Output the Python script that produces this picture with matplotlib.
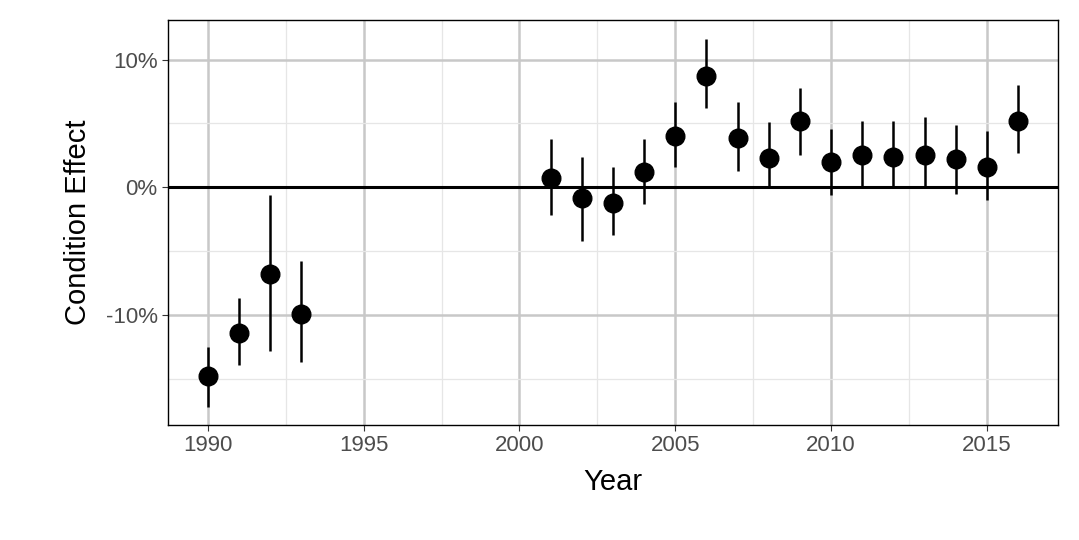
import matplotlib
matplotlib.use("Agg")
import matplotlib.pyplot as plt
from matplotlib.ticker import FuncFormatter, MultipleLocator

years = [1990, 1991, 1992, 1993, 2001, 2002, 2003, 2004, 2005, 2006,
         2007, 2008, 2009, 2010, 2011, 2012, 2013, 2014, 2015, 2016]
effect = [-14.8, -11.4, -6.8, -9.9, 0.7, -0.8, -1.2, 1.2, 4.0, 8.7,
          3.9, 2.3, 5.2, 2.0, 2.5, 2.4, 2.5, 2.2, 1.6, 5.2]
upper = [-12.5, -8.7, -0.6, -5.8, 3.8, 2.4, 1.6, 3.8, 6.7, 11.6,
         6.7, 5.1, 7.8, 4.6, 5.2, 5.2, 5.5, 4.9, 4.4, 8.0]
lower = [-17.2, -13.9, -12.8, -13.7, -2.2, -4.2, -3.7, -1.3, 1.6, 6.2,
         1.3, 0.0, 2.5, -0.6, 0.0, 0.0, 0.0, -0.5, -1.0, 2.7]

plt.rcParams["font.family"] = ["Liberation Sans", "DejaVu Sans"]

fig = plt.figure(figsize=(10.79, 5.4), dpi=100)
ax = fig.add_axes([0.1557, 0.213, 0.8248, 0.750])

ax.set_xlim(1988.72, 2017.28)
ax.set_ylim(-18.6, 13.1)
ax.xaxis.set_major_locator(MultipleLocator(5))
ax.xaxis.set_minor_locator(MultipleLocator(2.5))
ax.yaxis.set_major_locator(MultipleLocator(10))
ax.yaxis.set_minor_locator(MultipleLocator(5))
ax.yaxis.set_major_formatter(FuncFormatter(lambda v, p: f"{v:.0f}%"))
ax.grid(True, which="major", color="#c8c8c8", linewidth=1.8)
ax.grid(True, which="minor", color="#e6e6e6", linewidth=0.9)
ax.set_axisbelow(True)

ax.axhline(0, color="black", linewidth=2.2)
ax.vlines(years, lower, upper, color="black", linewidth=1.8)
ax.scatter(years, effect, s=180, color="black", zorder=3)

for s in ax.spines.values():
    s.set_linewidth(1)
ax.tick_params(which="major", labelsize=16, labelcolor="#4d4d4d", length=4, color="#333333")
ax.tick_params(which="minor", length=0)
ax.set_xlabel("Year", fontsize=21, labelpad=8)
ax.set_ylabel("Condition Effect", fontsize=21, labelpad=10)

fig.savefig("out.png", dpi=100)
